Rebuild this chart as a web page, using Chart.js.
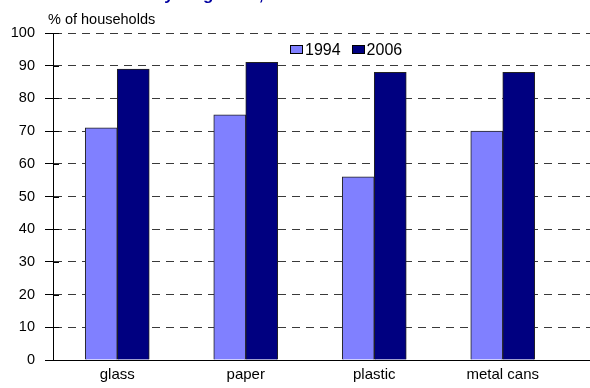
<!DOCTYPE html>
<html><head><meta charset="utf-8">
<script src="https://cdn.jsdelivr.net/npm/chart.js@4"></script>
<style>
html,body{margin:0;padding:0;background:#fff;overflow:hidden}
#wrap{position:relative;width:590px;height:388px;font-family:"Liberation Sans",Arial,sans-serif}
canvas{position:absolute;left:0;top:0}
#title{position:absolute;left:133px;top:-15px;font-size:17px;line-height:20px;font-weight:bold;color:#0000a0;white-space:nowrap}
#ylab{position:absolute;left:48px;top:10px;font-size:14.5px;line-height:18px;color:#000}
#legend{position:absolute;left:290px;top:41px;font-size:16px;line-height:17px;color:#000;white-space:nowrap}
#legend span.box{display:inline-block;width:13px;height:9px;border:1px solid #000;box-sizing:border-box;vertical-align:1px;margin-right:2px}
#legend span.item{margin-right:11px}
</style></head>
<body><div id="wrap">
<canvas id="c" width="590" height="388"></canvas>
<div id="title">Recycling rates, 1994 and 2006</div>
<div id="ylab">% of households</div>
<div id="legend"><span class="item"><span class="box" style="background:#8080ff"></span>1994</span><span class="item"><span class="box" style="background:#000080"></span>2006</span></div>
</div>
<script>
const categories = ["glass", "paper", "plastic", "metal cans"];
const seriesNames = ["1994", "2006"];
const values1994 = [71, 75, 56, 70];
const values2006 = [89, 91, 88, 88];
const yTicks = [0, 10, 20, 30, 40, 50, 60, 70, 80, 90, 100];

const toPts = arr => arr.map((v, i) => ({x: i, y: v}));

const crossTicks = {
  id: 'crossTicks',
  afterDraw(chart) {
    const ctx = chart.ctx, y = chart.scales.y, a = chart.chartArea;
    ctx.save();
    ctx.strokeStyle = '#000';
    ctx.lineWidth = 1;
    yTicks.forEach(t => {
      const py = Math.round(y.getPixelForValue(t)) + 0.5;
      ctx.beginPath();
      ctx.moveTo(a.left, py);
      ctx.lineTo(a.left + 6, py);
      ctx.stroke();
    });
    ctx.restore();
  }
};

new Chart(document.getElementById('c'), {
  type: 'bar',
  data: {
    datasets: [
      {label: seriesNames[0], data: toPts(values1994), backgroundColor: '#8080ff', borderColor: '#222', borderWidth: 1, barThickness: 32},
      {label: seriesNames[1], data: toPts(values2006), backgroundColor: '#000080', borderColor: '#222', borderWidth: 1, barThickness: 32}
    ]
  },
  plugins: [crossTicks],
  options: {
    responsive: false,
    animation: false,
    layout: {padding: {top: 33, right: 0, left: 0, bottom: 0}},
    plugins: {legend: {display: false}, title: {display: false}, tooltip: {enabled: false}},
    scales: {
      x: {
        type: 'linear',
        offset: false,
        bounds: 'data',
        min: -0.5,
        max: 3.679,
        afterBuildTicks: axis => { axis.ticks = categories.map((c, i) => ({value: i})); },
        afterFit: axis => { axis.height = 28; axis.paddingLeft = 0; axis.paddingRight = 0; },
        ticks: {
          autoSkip: false, maxRotation: 0, padding: 6,
          color: '#000',
          font: {family: '"Liberation Sans", Arial, sans-serif', size: 15},
          callback: v => categories[v] !== undefined ? categories[v] : ''
        },
        grid: {display: false, drawTicks: false},
        border: {display: true, color: '#000', width: 1}
      },
      y: {
        min: 0, max: 100,
        afterBuildTicks: axis => { axis.ticks = yTicks.map(v => ({value: v})); },
        afterFit: axis => { axis.width = 53; },
        ticks: {
          padding: 10, color: '#000',
          font: {family: '"Liberation Sans", Arial, sans-serif', size: 14.5}
        },
        grid: {color: '#3a3a3a', lineWidth: 1, drawTicks: true, tickLength: 8, tickColor: '#000', tickBorderDash: [], tickWidth: 1},
        border: {display: true, color: '#000', width: 1, dash: [8, 6]}
      }
    }
  }
});
</script>
</body></html>
